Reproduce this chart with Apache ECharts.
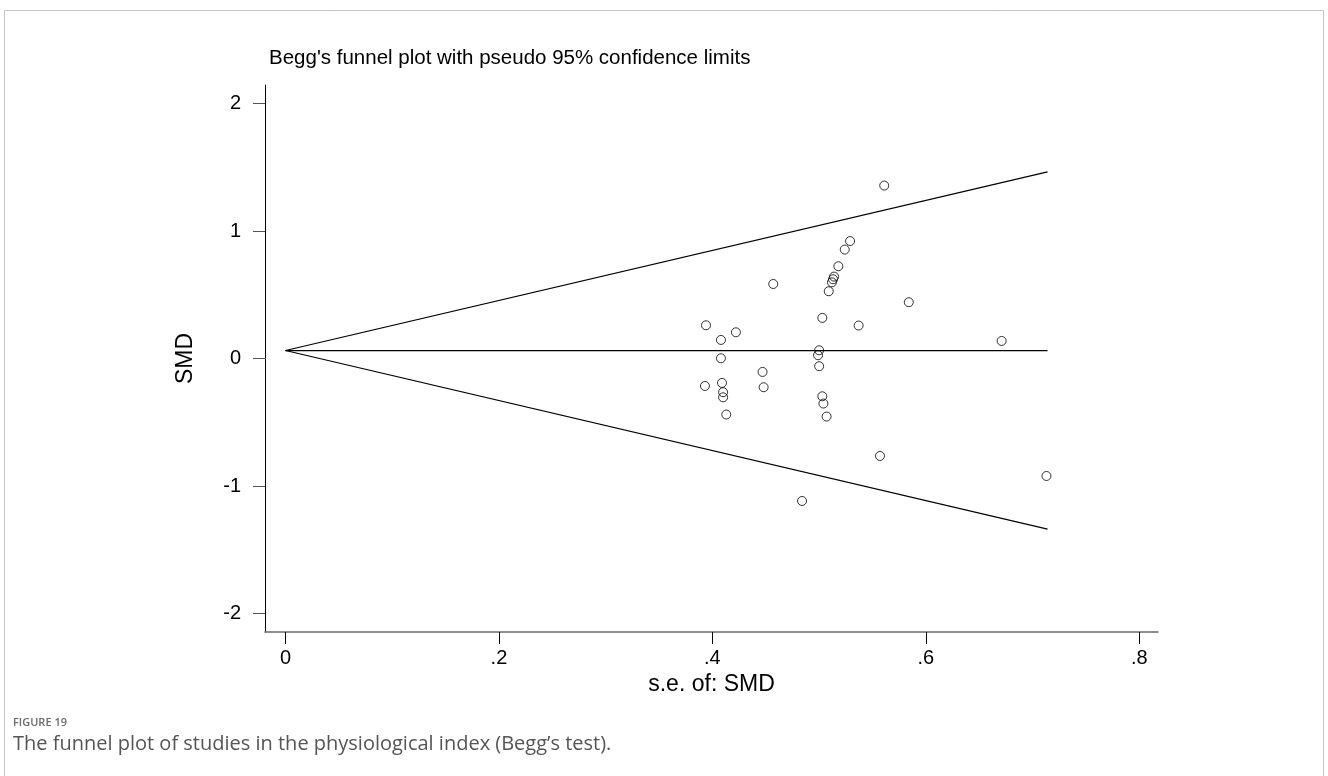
<!DOCTYPE html>
<html>
<head>
<meta charset="utf-8">
<script src="https://cdn.jsdelivr.net/npm/echarts@6/dist/echarts.min.js"></script>
<style>
html,body{margin:0;padding:0;background:#fff;}
#chart{width:1328px;height:776px;}
</style>
</head>
<body>
<div id="chart"></div>
<script>
// ---- data ----
const studySE = [0.561,0.529,0.524,0.518,0.514,0.513,0.512,0.509,0.457,0.584,0.503,0.394,0.537,0.422,0.408,0.671,0.500,0.499,0.408,0.500,0.447,0.393,0.409,0.448,0.410,0.410,0.503,0.504,0.413,0.507,0.557,0.484,0.713];
const studySMD = [1.357,0.922,0.855,0.724,0.643,0.622,0.598,0.528,0.585,0.442,0.319,0.261,0.259,0.206,0.146,0.138,0.065,0.026,0.002,-0.060,-0.105,-0.215,-0.191,-0.225,-0.264,-0.304,-0.296,-0.353,-0.439,-0.455,-0.764,-1.117,-0.921];
const limitSE = [0, 0.714];
const pooledLine = [0.063, 0.063];
const upperLimit = [0.063, 1.464];
const lowerLimit = [0.063, -1.338];
const xTicks = [0, 0.2, 0.4, 0.6, 0.8];
const xTickLabels = ['0', '.2', '.4', '.6', '.8'];
const yTicks = [-2, -1, 0, 1, 2];
const yTickLabels = ['-2', '-1', '0', '1', '2'];
const titleText = "Begg's funnel plot with pseudo 95% confidence limits";
const xName = 's.e. of: SMD';
const yName = 'SMD';
const figLabel = 'FIGURE 19';
const captionText = 'The funnel plot of studies in the physiological index (Begg\u2019s test).';

const pair = (xs, ys) => xs.map((x, i) => [x, ys[i]]);
const labelFor = (ticks, labels) => v => {
  for (let i = 0; i < ticks.length; i++) if (Math.abs(ticks[i] - v) < 1e-6) return labels[i];
  return '';
};

const chart = echarts.init(document.getElementById('chart'), null, {renderer: 'canvas'});
const FONT = '"Liberation Sans", Arial, sans-serif';
const lineStyle = {color: '#000', width: 1.2};

chart.setOption({
  animation: false,
  backgroundColor: '#fff',
  title: {
    text: titleText,
    left: 264, top: 43,
    textStyle: {fontFamily: FONT, fontSize: 20.5, fontWeight: 'normal', color: '#000'}
  },
  grid: {left: 265, right: 170, top: 85, bottom: 144, containLabel: false},
  xAxis: {
    type: 'value', min: -0.0192, max: 0.8175,
    name: xName, nameLocation: 'middle', nameGap: 31,
    nameTextStyle: {fontFamily: FONT, fontSize: 23, color: '#000'},
    axisLine: {show: true, onZero: false, lineStyle: {color: '#6a6a6a', width: 1.5}},
    axisTick: {show: true, length: 12, customValues: xTicks, lineStyle: {color: '#000', width: 1}},
    axisLabel: {customValues: xTicks, formatter: labelFor(xTicks, xTickLabels), margin: 16,
      fontFamily: FONT, fontSize: 20, color: '#000'},
    splitLine: {show: false}
  },
  yAxis: {
    type: 'value', min: -2.145, max: 2.146,
    name: yName, nameLocation: 'middle', nameGap: 68, nameRotate: 90,
    nameTextStyle: {fontFamily: FONT, fontSize: 23, color: '#000'},
    axisLine: {show: true, onZero: false, lineStyle: {color: '#000', width: 1}},
    axisTick: {show: true, length: 12, customValues: yTicks, lineStyle: {color: '#555', width: 1}},
    axisLabel: {customValues: yTicks, formatter: labelFor(yTicks, yTickLabels), margin: 24,
      fontFamily: FONT, fontSize: 20, color: '#000'},
    splitLine: {show: false}
  },
  series: [
    {type: 'line', data: pair(limitSE, upperLimit), symbol: 'none', lineStyle, silent: true},
    {type: 'line', data: pair(limitSE, pooledLine), symbol: 'none', lineStyle, silent: true},
    {type: 'line', data: pair(limitSE, lowerLimit), symbol: 'none', lineStyle, silent: true},
    {type: 'scatter', data: pair(studySE, studySMD), symbol: 'circle', symbolSize: 9,
      itemStyle: {color: 'rgba(255,255,255,0)', borderColor: '#000', borderWidth: 1}}
  ],
  graphic: [
    {type: 'rect', silent: true, shape: {x: 4.5, y: 10.5, width: 1319, height: 800},
      style: {fill: null, stroke: '#c4c4c4', lineWidth: 1}},
    {type: 'text', left: 13, top: 717, silent: true,
      style: {text: figLabel, fill: '#6b6b6b', font: '600 11px "Open Sans", "Noto Sans", sans-serif'}},
    {type: 'text', left: 13, top: 734, silent: true,
      style: {text: captionText, fill: '#555', font: '20px "Open Sans", "Noto Sans", sans-serif'}}
  ]
});
</script>
</body>
</html>
